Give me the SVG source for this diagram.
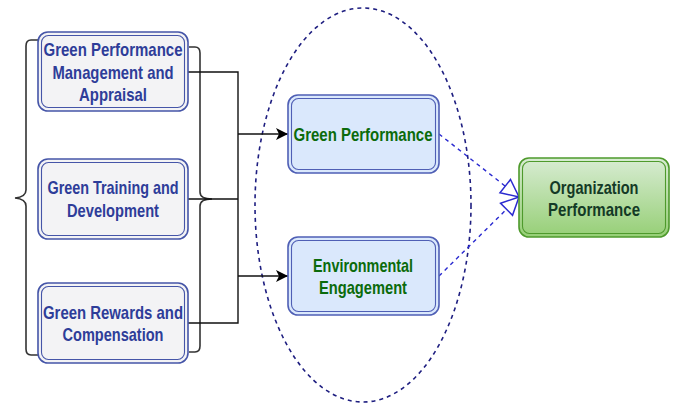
<svg xmlns="http://www.w3.org/2000/svg" width="678" height="405" viewBox="0 0 678 405">
  <defs>
    <linearGradient id="greenFill" x1="0" y1="0" x2="0" y2="1">
      <stop offset="0" stop-color="#d8ecd3"/>
      <stop offset="1" stop-color="#96cf76"/>
    </linearGradient>
    <marker id="solidArrow" viewBox="0 0 12 12" refX="12" refY="6" markerWidth="12" markerHeight="12" markerUnits="userSpaceOnUse" orient="auto">
      <path d="M0,0 L12,6 L0,12 L3,6 Z" fill="#000"/>
    </marker>
    <marker id="openTriangle" viewBox="0 0 20 20" refX="19" refY="10" markerWidth="20" markerHeight="20" markerUnits="userSpaceOnUse" orient="auto">
      <path d="M1.5,1.5 L19,10 L1.5,18.5 Z" fill="#fff" stroke="#2a2ad0" stroke-width="1.5" stroke-linejoin="miter"/>
    </marker>
  </defs>
  <style>
    .lbl { font-family: "Liberation Sans", Arial, sans-serif; font-weight: bold; font-size: 18.5px; text-anchor: middle; }
    .practice-outer { fill: #f3f3f5; stroke: #4555a8; stroke-width: 1.6; }
    .practice-inner { fill: none; stroke: #4555a8; stroke-width: 1.1; }
    .practice-txt { fill: #2e3d99; }
    .mediator-outer { fill: #dae8fc; stroke: #4f5fb5; stroke-width: 1.6; }
    .mediator-inner { fill: none; stroke: #4f5fb5; stroke-width: 1.1; }
    .mediator-txt { fill: #0b6b0b; }
    .outcome-outer { fill: url(#greenFill); stroke: #4e9a2c; stroke-width: 1.6; }
    .outcome-inner { fill: none; stroke: #4e9a2c; stroke-width: 1.1; }
    .outcome-txt { fill: #143a26; }
    .brace { fill: none; stroke: #333; stroke-width: 1.6; }
    .link { fill: none; stroke: #111; stroke-width: 1.4; }
    .dashed-link { fill: none; stroke: #2a2ad0; stroke-width: 1.4; stroke-dasharray: 4 4; }
    .scope { fill: none; stroke: #1e1e80; stroke-width: 1.6; stroke-dasharray: 4 4; }
  </style>

  <!-- grouping braces -->
  <g id="braces">
    <path class="brace" d="M38,40 L31,40 Q26,40 26,46 L26,190 Q26,197 15,198 Q26,199 26,206 L26,349 Q26,355 31,355 L38,355"/>
    <path class="brace" d="M189,47 L195,47 Q200,47 200,53 L200,192 Q200,199 212,199 Q200,199 200,206 L200,346 Q200,352 195,352 L189,352"/>
  </g>

  <!-- scope ellipse around mediators -->
  <ellipse id="mediatorScope" class="scope" cx="363" cy="205" rx="108" ry="197"/>

  <g id="connectors">
    <path class="link" d="M188,72 L238,72 L238,323 L188,323"/>
    <path class="link" d="M188,199 L238,199"/>
    <path class="link" d="M238,134 L288,134" marker-end="url(#solidArrow)"/>
    <path class="link" d="M238,276 L288,276" marker-end="url(#solidArrow)"/>
    <path class="dashed-link" d="M439,134 L519,197" marker-end="url(#openTriangle)"/>
    <path class="dashed-link" d="M439,276 L519,197" marker-end="url(#openTriangle)"/>
  </g>

  <g id="gpma">
    <rect class="practice-outer" x="38" y="32" width="150" height="79" rx="10"/>
    <rect class="practice-inner" x="41.5" y="35.5" width="143" height="72" rx="7"/>
    <text class="lbl practice-txt" x="113" y="55.5" textLength="139" lengthAdjust="spacingAndGlyphs">Green Performance</text>
    <text class="lbl practice-txt" x="113" y="78.5" textLength="121" lengthAdjust="spacingAndGlyphs">Management and</text>
    <text class="lbl practice-txt" x="113" y="100.5" textLength="68" lengthAdjust="spacingAndGlyphs">Appraisal</text>
  </g>

  <g id="gtd">
    <rect class="practice-outer" x="38" y="159" width="150" height="80" rx="10"/>
    <rect class="practice-inner" x="41.5" y="162.5" width="143" height="73" rx="7"/>
    <text class="lbl practice-txt" x="113" y="193.5" textLength="131" lengthAdjust="spacingAndGlyphs">Green Training and</text>
    <text class="lbl practice-txt" x="113" y="216.5" textLength="92" lengthAdjust="spacingAndGlyphs">Development</text>
  </g>

  <g id="grc">
    <rect class="practice-outer" x="38" y="283" width="150" height="80" rx="10"/>
    <rect class="practice-inner" x="41.5" y="286.5" width="143" height="73" rx="7"/>
    <text class="lbl practice-txt" x="113" y="318.5" textLength="140" lengthAdjust="spacingAndGlyphs">Green Rewards and</text>
    <text class="lbl practice-txt" x="113" y="340.5" textLength="101" lengthAdjust="spacingAndGlyphs">Compensation</text>
  </g>

  <g id="greenPerformance">
    <rect class="mediator-outer" x="288" y="95" width="151" height="78" rx="10"/>
    <rect class="mediator-inner" x="291.5" y="98.5" width="144" height="71" rx="7"/>
    <text class="lbl mediator-txt" x="363" y="140.5" textLength="139" lengthAdjust="spacingAndGlyphs">Green Performance</text>
  </g>

  <g id="environmentalEngagement">
    <rect class="mediator-outer" x="288" y="237" width="151" height="78" rx="10"/>
    <rect class="mediator-inner" x="291.5" y="240.5" width="144" height="71" rx="7"/>
    <text class="lbl mediator-txt" x="363" y="271.5" textLength="100" lengthAdjust="spacingAndGlyphs">Environmental</text>
    <text class="lbl mediator-txt" x="363" y="293.5" textLength="88" lengthAdjust="spacingAndGlyphs">Engagement</text>
  </g>

  <g id="organizationPerformance">
    <rect class="outcome-outer" x="519" y="158" width="150" height="79" rx="10"/>
    <rect class="outcome-inner" x="522.5" y="161.5" width="143" height="72" rx="7"/>
    <text class="lbl outcome-txt" x="594" y="193.5" textLength="89" lengthAdjust="spacingAndGlyphs">Organization</text>
    <text class="lbl outcome-txt" x="594" y="215.5" textLength="92" lengthAdjust="spacingAndGlyphs">Performance</text>
  </g>
</svg>
